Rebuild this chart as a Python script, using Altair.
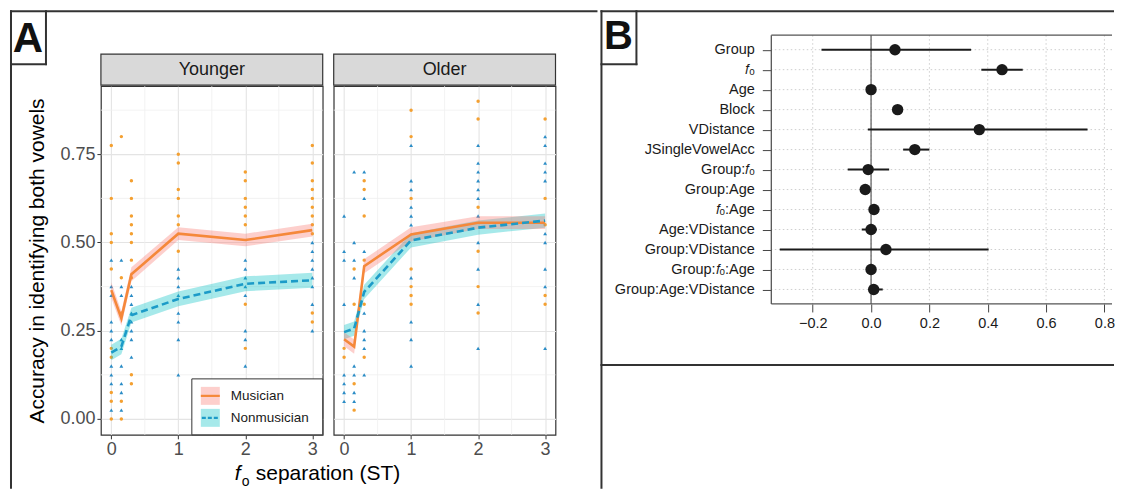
import altair as alt
import pandas as pd

# ---------------- Panel A data ----------------
x_levels = [0, 0.15, 0.3, 1, 2, 3]

young_mus_mean = [0.365, 0.285, 0.41, 0.525, 0.507, 0.535]
young_mus_half = [0.022, 0.02, 0.02, 0.018, 0.018, 0.018]
young_non_mean = [0.188, 0.205, 0.294, 0.34, 0.383, 0.393]
young_non_half = [0.022, 0.022, 0.021, 0.021, 0.021, 0.021]
old_mus_mean = [0.226, 0.205, 0.433, 0.523, 0.556, 0.556]
old_mus_half = [0.02, 0.02, 0.02, 0.02, 0.018, 0.018]
old_non_mean = [0.246, 0.256, 0.36, 0.506, 0.542, 0.562]
old_non_half = [0.02, 0.02, 0.02, 0.02, 0.02, 0.02]

# individual listener scores, one list per f0 separation (same order as x_levels)
young_mus_dots = [
    [0.775, 0.625, 0.525, 0.50, 0.425, 0.20, 0.175, 0.075, 0.05, 0.0],
    [0.80, 0.40, 0.30, 0.05, 0.0],
    [0.675, 0.625, 0.575, 0.55, 0.525, 0.50, 0.45, 0.40, 0.125, 0.10],
    [0.75, 0.725, 0.65, 0.625, 0.575, 0.55, 0.475],
    [0.70, 0.675, 0.625, 0.60, 0.575, 0.55, 0.325, 0.20],
    [0.775, 0.725, 0.675, 0.65, 0.625, 0.60, 0.575, 0.55, 0.525, 0.30, 0.275],
]
young_non_dots = [
    [0.45, 0.375, 0.35, 0.275, 0.25, 0.225, 0.15, 0.125, 0.10, 0.025],
    [0.45, 0.375, 0.35, 0.225, 0.20, 0.15, 0.10, 0.075, 0.025],
    [0.375, 0.35, 0.325, 0.30, 0.275, 0.25, 0.225, 0.175],
    [0.425, 0.40, 0.375, 0.35, 0.30, 0.275, 0.225, 0.125],
    [0.45, 0.425, 0.40, 0.375, 0.35, 0.25, 0.225, 0.15],
    [0.50, 0.475, 0.45, 0.425, 0.40, 0.375, 0.325, 0.25],
]
old_mus_dots = [
    [0.20, 0.175],
    [0.425, 0.325, 0.10, 0.025],
    [0.675, 0.65, 0.575, 0.45, 0.325, 0.175],
    [0.875, 0.80, 0.625, 0.425, 0.375, 0.35, 0.325],
    [0.90, 0.85, 0.60, 0.475, 0.375, 0.30],
    [0.85, 0.625, 0.55, 0.35, 0.325],
]
old_non_dots = [
    [0.575, 0.475, 0.45, 0.325, 0.125, 0.10, 0.075, 0.05],
    [0.70, 0.50, 0.45, 0.40, 0.15, 0.125, 0.075, 0.05],
    [0.70, 0.625, 0.475, 0.30, 0.25, 0.225, 0.20, 0.125],
    [0.775, 0.675, 0.65, 0.60, 0.575, 0.55, 0.40, 0.275, 0.225, 0.15],
    [0.775, 0.725, 0.70, 0.675, 0.65, 0.625, 0.575, 0.50, 0.425, 0.325, 0.20],
    [0.80, 0.775, 0.725, 0.70, 0.675, 0.525, 0.50, 0.425, 0.375, 0.20],
]

x_major = [0, 1, 2, 3]
x_minor = [0.5, 1.5, 2.5]
y_major = [0, 0.25, 0.5, 0.75]
y_minor = [0.125, 0.375, 0.625, 0.875]

# ---------------- Panel B data ----------------
terms = ["Group", "𝑓ₒ", "Age", "Block", "VDistance", "JSingleVowelAcc", "Group:𝑓ₒ",
         "Group:Age", "𝑓ₒ:Age", "Age:VDistance", "Group:VDistance", "Group:𝑓ₒ:Age",
         "Group:Age:VDistance"]
est = [0.082, 0.449, 0.0, 0.091, 0.371, 0.15, -0.01, -0.02, 0.01, 0.0, 0.051, 0.0, 0.009]
lo = [-0.17, 0.378, -0.005, 0.078, -0.011, 0.11, -0.08, -0.03, 0.0, -0.032, -0.313, -0.004, -0.008]
hi = [0.343, 0.52, 0.01, 0.104, 0.742, 0.20, 0.062, -0.01, 0.02, 0.02, 0.403, 0.004, 0.04]
b_ticks = [-0.2, 0.0, 0.2, 0.4, 0.6, 0.8]

FONT = "Liberation Sans"
FRAME = "#333333"
one = pd.DataFrame({"a": [0]})


def hline(x1, x2, y, color=FRAME, w=2.0, cap="square", opacity=1.0):
    return alt.Chart(one).mark_rule(color=color, strokeWidth=w, strokeCap=cap,
                                    opacity=opacity).encode(
        x=alt.value(x1), x2=alt.value(x2), y=alt.value(y))


def vline(x, y1, y2, color=FRAME, w=2.0, cap="square", opacity=1.0):
    return alt.Chart(one).mark_rule(color=color, strokeWidth=w, strokeCap=cap,
                                    opacity=opacity).encode(
        x=alt.value(x), y=alt.value(y1), y2=alt.value(y2))


def label(txt, x, y, size, **kw):
    return alt.Chart(one).mark_text(text=txt, fontSize=size, font=FONT, **kw).encode(
        x=alt.value(x), y=alt.value(y))


W_A, H_A = 222, 349
xs = alt.Scale(domain=[-0.155, 3.155], nice=False, zero=False)
ys = alt.Scale(domain=[-0.045, 0.943], nice=False, zero=False)

MUS_LINE = "#F5883A"
MUS_BAND = "#F8766D"
MUS_DOT = "#F4A031"
NON_LINE = "#1C9BC8"
NON_BAND = "#00BFC4"
NON_DOT = "#2A8CC6"


def dots_frame(lists):
    xs_, ys_ = [], []
    for xv, vals in zip(x_levels, lists):
        for v in vals:
            xs_.append(xv)
            ys_.append(v)
    return pd.DataFrame({"x": xs_, "y": ys_})


def mean_frame(mean, half):
    return pd.DataFrame({"x": x_levels, "m": mean,
                         "lo": [m - h for m, h in zip(mean, half)],
                         "hi": [m + h for m, h in zip(mean, half)]})


def panel(title, mus_mean, mus_half, non_mean, non_half, mus_dots, non_dots, first):
    x_axis = alt.Axis(values=x_major, format="d", title=None, labelFontSize=18,
                      labelColor="#4d4d4d", tickColor=FRAME, tickSize=4, labelPadding=2,
                      domain=False, grid=True, gridColor="#e4e4e4", gridWidth=1.1)
    if first:
        y_axis = alt.Axis(values=y_major, format=".2f",
                          title="Accuracy in identifying both vowels",
                          titleFontSize=21, titleFontWeight="normal", titleColor="#000000",
                          titlePadding=12, titleFont=FONT,
                          labelFontSize=18, labelColor="#4d4d4d", tickColor=FRAME,
                          tickSize=4, labelPadding=2, domain=False, grid=True,
                          gridColor="#e4e4e4", gridWidth=1.1)
    else:
        y_axis = alt.Axis(values=y_major, labels=False, ticks=False, title=None,
                          domain=False, grid=True, gridColor="#e4e4e4", gridWidth=1.1)

    X = lambda f: alt.X(f, type="quantitative", scale=xs, axis=x_axis)
    Y = lambda f: alt.Y(f, type="quantitative", scale=ys, axis=y_axis)

    minor_v = alt.Chart(pd.DataFrame({"x": x_minor})).mark_rule(
        color="#efefef", strokeWidth=0.8).encode(x=X("x"))
    minor_h = alt.Chart(pd.DataFrame({"y": y_minor})).mark_rule(
        color="#efefef", strokeWidth=0.8).encode(y=Y("y"))

    md = alt.Chart(dots_frame(mus_dots)).mark_point(
        filled=True, shape="circle", size=12, color=MUS_DOT, opacity=1).encode(x=X("x"), y=Y("y"))
    nd = alt.Chart(dots_frame(non_dots)).mark_point(
        filled=True, shape="triangle-up", size=15, color=NON_DOT, opacity=1).encode(x=X("x"), y=Y("y"))

    mf = mean_frame(mus_mean, mus_half)
    nf = mean_frame(non_mean, non_half)
    mband = alt.Chart(mf).mark_area(color=MUS_BAND, opacity=0.35).encode(
        x=X("x"), y=Y("lo"), y2="hi")
    nband = alt.Chart(nf).mark_area(color=NON_BAND, opacity=0.35).encode(
        x=X("x"), y=Y("lo"), y2="hi")
    mline = alt.Chart(mf).mark_line(color=MUS_LINE, strokeWidth=2.6).encode(x=X("x"), y=Y("m"))
    nline = alt.Chart(nf).mark_line(color=NON_LINE, strokeWidth=2.6, strokeDash=[7, 4]).encode(
        x=X("x"), y=Y("m"))

    strip_rect = alt.Chart(one).mark_rect(fill="#d9d9d9", stroke=FRAME, strokeWidth=1.2).encode(
        x=alt.value(0), x2=alt.value(W_A), y=alt.value(-32), y2=alt.value(-1))
    strip_txt = label(title, W_A / 2, -16, 18, baseline="middle", align="center", color="#1a1a1a")

    layers = [minor_v, minor_h, md, nd, nband, mband, mline, nline, strip_rect, strip_txt]

    if first:
        # legend box (bottom-right corner)
        layers += [
            alt.Chart(one).mark_rect(fill="white", stroke=FRAME, strokeWidth=1).encode(
                x=alt.value(91), x2=alt.value(W_A), y=alt.value(293), y2=alt.value(H_A)),
            alt.Chart(one).mark_rect(fill=MUS_BAND, opacity=0.35).encode(
                x=alt.value(100), x2=alt.value(119), y=alt.value(301), y2=alt.value(319)),
            alt.Chart(one).mark_rect(fill=NON_BAND, opacity=0.35).encode(
                x=alt.value(100), x2=alt.value(119), y=alt.value(323), y2=alt.value(341)),
            hline(100, 119, 310, color=MUS_LINE, w=2.2, cap="butt"),
            alt.Chart(one).mark_rule(color=NON_LINE, strokeWidth=2.2, strokeDash=[4, 2]).encode(
                x=alt.value(101), x2=alt.value(119), y=alt.value(332)),
            label("Musician", 130, 310, 13.5, baseline="middle", align="left", color="#1a1a1a"),
            label("Nonmusician", 130, 332, 13.5, baseline="middle", align="left", color="#1a1a1a"),
        ]
        # x-axis title shared by both facets
        layers += [
            label("f", 134, 394, 21, align="left", baseline="alphabetic", fontStyle="italic", color="#000"),
            label("o", 141, 400, 14, align="left", baseline="alphabetic", color="#000"),
            label("separation (ST)", 155, 394, 21, align="left", baseline="alphabetic", color="#000"),
        ]
        # outer frame of panel A and the "A" tag (right edge is drawn by panel B)
        layers += [
            hline(-90, 496, -75),
            vline(-90, -75, 402),
            vline(496, -75, 402, opacity=0),
            vline(-55, -75, -22),
            hline(-90, -55, -22),
            label("A", -73, -47, 42, fontWeight="bold", align="center", baseline="middle", color="#111"),
        ]

    return alt.layer(*layers).properties(
        width=W_A, height=H_A,
        view=alt.ViewBackground(stroke=FRAME, strokeWidth=1.2))


young = panel("Younger", young_mus_mean, young_mus_half, young_non_mean, young_non_half,
              young_mus_dots, young_non_dots, True)
old = panel("Older", old_mus_mean, old_mus_half, old_non_mean, old_non_half,
            old_mus_dots, old_non_dots, False)

# invisible spacer that lifts the alignment origin of panel A to the top of panel B's plot
spacer = alt.Chart(one).mark_point(opacity=0).encode(
    x=alt.value(0), y=alt.value(0)).properties(
    width=1, height=51, view=alt.ViewBackground(stroke="transparent"))

panelA = alt.vconcat(spacer, alt.hconcat(young, old, spacing=11, bounds="flush"),
                     spacing=0, bounds="flush")

# ---------------- Panel B ----------------
W_B, H_B = 341, 269
bdf = pd.DataFrame({"term": terms, "est": est, "lo": lo, "hi": hi})
bxs = alt.Scale(domain=[-0.342, 0.826], nice=False, zero=False)
bys = alt.Scale(type="point", domain=terms, padding=0.725)
bx_axis = alt.Axis(values=b_ticks, format=".1f", title=None, labelFontSize=14.5,
                   labelColor="#1a1a1a", tickColor="#444", tickSize=8, labelPadding=5,
                   domain=False, grid=False, labelFont=FONT)
by_axis = alt.Axis(title=None, labelFontSize=14.5, labelColor="#1a1a1a", tickColor="#444",
                   tickSize=9, labelPadding=8, domain=False, grid=False, labelFont=FONT)
BX = lambda f: alt.X(f, type="quantitative", scale=bxs, axis=bx_axis)
BY = lambda f: alt.Y(f, type="nominal", scale=bys, axis=by_axis, sort=terms)

b_vgrid = alt.Chart(pd.DataFrame({"t": b_ticks})).mark_rule(
    color="#c8c8c8", strokeWidth=0.9, strokeDash=[1.5, 2.5]).encode(x=BX("t"))
b_hgrid = alt.Chart(bdf).mark_rule(
    color="#c8c8c8", strokeWidth=0.9, strokeDash=[1.5, 2.5]).encode(y=BY("term"))
b_zero = alt.Chart(pd.DataFrame({"z": [0.0]})).mark_rule(
    color="#666666", strokeWidth=1.3).encode(x=BX("z"))
b_err = alt.Chart(bdf).mark_rule(color="#1a1a1a", strokeWidth=2).encode(
    x=BX("lo"), x2="hi", y=BY("term"))
b_pts = alt.Chart(bdf).mark_point(filled=True, shape="circle", size=130, color="#1a1a1a",
                                  opacity=1).encode(x=BX("est"), y=BY("term"))

panelB = alt.layer(
    b_vgrid, b_hgrid, b_zero, b_err, b_pts,
    hline(0, W_B, 0, color="#555555", w=1.3, cap="butt"),
    hline(0, W_B, H_B, color="#555555", w=1.3, cap="butt"),
    vline(0, 0, H_B, color="#555555", w=1.3, cap="butt"),
    # outer frame of panel B (its left edge is also panel A's right edge) and the "B" tag
    hline(-170, W_B + 1, -24),
    hline(-170, W_B + 1, 330),
    vline(-170, -24, 453),
    vline(-135, -24, 29),
    hline(-170, -135, 29),
    label("B", -153, 2, 40, fontWeight="bold", align="center", baseline="middle", color="#111"),
).properties(width=W_B, height=H_B,
             view=alt.ViewBackground(stroke="transparent"))

chart = alt.hconcat(panelA, panelB, spacing=0).properties(
    padding={"left": 0, "top": 0, "right": 0, "bottom": 0}
).configure(font=FONT).configure_axis(labelFont=FONT, titleFont=FONT)

chart.save("out.html", embed_options={"renderer": "svg", "actions": False})
